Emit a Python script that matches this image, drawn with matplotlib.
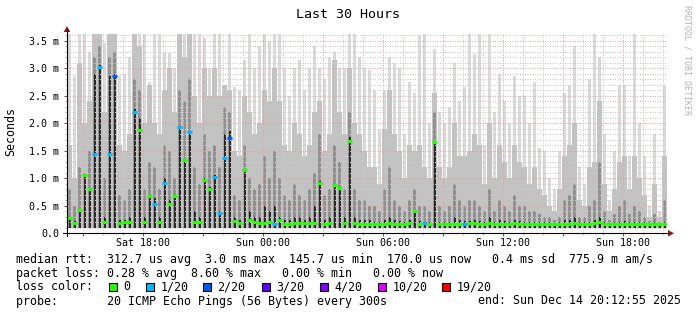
import numpy as np
import matplotlib
matplotlib.use("Agg")
import matplotlib.pyplot as plt
from matplotlib.lines import Line2D
from matplotlib.patches import Polygon, Rectangle

W, H = 697, 315

# smoke levels per 15 minute column (ms)
light_top = [
    3.62, 2.85, 3.62, 3.62, 3.3, 3.62, 3.62, 3.45, 3.62, 3.62,
    2.85, 2.9, 3.2, 3.62, 3.62, 3.62, 2.75, 3.62, 3.62, 3.3,
    3.27, 3.0, 3.62, 3.62, 3.62, 3.62, 3.62, 3.55, 3.0, 3.62,
    3.62, 2.7, 3.62, 2.65, 2.6, 3.15, 3.62, 3.0, 3.4, 3.62,
    3.5, 3.62, 3.62, 3.0, 2.5, 3.0, 3.15, 2.6, 3.0, 3.4,
    3.0, 2.8, 3.2, 3.3, 3.0, 3.0, 3.62, 3.62, 3.2, 3.0,
    2.96, 2.6, 1.9, 2.6, 3.2, 3.1, 3.0, 1.8, 2.75, 2.55,
    3.6, 3.62, 2.0, 3.35, 2.2, 2.0, 2.3, 3.1, 2.4, 2.65,
    3.62, 3.25, 3.62, 1.6, 3.62, 2.2, 2.9, 2.4, 2.0, 2.85,
    2.5, 2.5, 2.0, 2.75, 1.55, 1.5, 1.0, 0.8, 1.5, 2.55,
    2.7, 3.4, 1.2, 0.9, 2.8, 3.62, 3.2, 1.8, 0.6, 1.5,
    2.7, 2.7, 1.4, 3.62, 2.0, 1.4, 0.5, 1.8, 0.4, 2.7,
]
mid_top = [
    1.6, 1.0, 3.1, 2.0, 2.4, 3.62, 3.62, 2.2, 3.62, 3.62,
    1.6, 1.5, 1.8, 3.62, 3.4, 2.0, 2.7, 2.0, 1.8, 2.6,
    3.0, 2.2, 3.62, 3.2, 3.62, 2.5, 2.0, 3.0, 2.5, 3.0,
    2.5, 2.7, 2.6, 1.5, 1.4, 2.5, 2.2, 1.8, 2.0, 2.6,
    2.4, 3.0, 2.4, 1.6, 1.5, 2.0, 1.8, 1.4, 1.6, 2.2,
    2.4, 1.5, 1.8, 3.15, 2.2, 1.8, 3.0, 2.0, 1.8, 1.5,
    1.2, 1.2, 0.9, 1.9, 2.6, 1.8, 1.5, 1.0, 1.6, 1.5,
    1.6, 1.2, 1.0, 2.55, 1.2, 1.0, 1.2, 2.0, 1.4, 1.4,
    1.5, 1.8, 1.6, 0.9, 2.0, 1.0, 1.6, 1.3, 1.0, 1.6,
    1.3, 1.2, 0.9, 1.2, 0.8, 0.7, 0.5, 0.4, 0.8, 1.4,
    1.6, 2.0, 0.6, 0.5, 1.2, 1.3, 2.4, 0.9, 0.4, 0.8,
    1.3, 1.4, 0.8, 1.4, 1.0, 0.7, 0.3, 0.9, 0.3, 1.4,
]
gray_top = [
    0.8, 0.5, 1.2, 1.1, 1.5, 3.2, 3.4, 1.0, 3.2, 3.3,
    0.7, 0.6, 0.8, 2.8, 2.6, 0.8, 1.3, 1.2, 0.8, 1.6,
    1.5, 1.0, 2.6, 2.4, 2.8, 1.2, 0.9, 1.8, 1.5, 1.6,
    1.2, 2.3, 2.2, 0.7, 0.6, 1.6, 1.0, 0.8, 0.9, 1.4,
    1.0, 1.5, 1.0, 0.7, 0.6, 0.9, 0.7, 0.6, 0.8, 1.1,
    1.8, 0.7, 0.8, 1.6, 1.3, 0.8, 2.2, 0.8, 0.6, 0.6,
    0.5, 0.5, 0.4, 0.8, 1.2, 0.6, 0.5, 0.4, 0.6, 0.8,
    0.5, 0.5, 0.4, 2.2, 0.5, 0.4, 0.5, 0.9, 0.6, 0.5,
    0.6, 0.6, 0.5, 0.4, 0.8, 0.4, 0.6, 0.5, 0.4, 0.7,
    0.5, 0.5, 0.4, 0.4, 0.35, 0.3, 0.3, 0.25, 0.3, 0.6,
    0.7, 0.9, 0.3, 0.3, 0.5, 0.6, 1.3, 0.4, 0.25, 0.35,
    0.5, 0.6, 0.35, 0.5, 0.4, 0.3, 0.22, 0.35, 0.2, 0.6,
]
dark_top = [
    0.3, 0.22, 0.42, 1.05, 0.8, 2.9, 3.05, 0.3, 2.85, 2.9,
    0.25, 0.25, 0.3, 2.25, 2.1, 0.3, 0.7, 0.65, 0.3, 1.0,
    0.6, 0.67, 1.95, 1.35, 1.85, 0.4, 0.3, 1.0, 0.85, 1.05,
    0.4, 1.8, 1.85, 0.3, 0.25, 1.15, 0.4, 0.3, 0.3, 0.5,
    0.4, 0.5, 0.3, 0.25, 0.25, 0.3, 0.3, 0.25, 0.3, 0.5,
    0.95, 0.25, 0.3, 0.9, 0.85, 0.3, 1.75, 0.3, 0.25, 0.25,
    0.25, 0.2, 0.2, 0.25, 0.3, 0.25, 0.22, 0.2, 0.25, 0.4,
    0.22, 0.2, 0.2, 1.68, 0.2, 0.2, 0.2, 0.3, 0.25, 0.22,
    0.22, 0.25, 0.22, 0.2, 0.3, 0.2, 0.25, 0.22, 0.2, 0.25,
    0.22, 0.2, 0.2, 0.2, 0.2, 0.2, 0.2, 0.18, 0.2, 0.25,
    0.25, 0.3, 0.2, 0.2, 0.2, 0.25, 0.3, 0.2, 0.18, 0.2,
    0.2, 0.22, 0.2, 0.2, 0.2, 0.2, 0.18, 0.2, 0.18, 0.2,
]
median_ms = [
    0.27, 0.18, 0.42, 1.05, 0.8, 1.44, 3.02, 0.2, 1.44, 2.85,
    0.18, 0.2, 0.2, 2.2, 1.87, 0.2, 0.67, 0.54, 0.2, 0.91,
    0.54, 0.67, 1.93, 1.33, 1.84, 0.2, 0.2, 0.97, 0.8, 1.03,
    0.36, 1.36, 1.73, 0.22, 0.18, 1.15, 0.24, 0.2, 0.18, 0.18,
    0.2, 0.17, 0.25, 0.17, 0.17, 0.18, 0.18, 0.18, 0.18, 0.18,
    0.91, 0.17, 0.18, 0.87, 0.82, 0.18, 1.68, 0.18, 0.17, 0.17,
    0.17, 0.17, 0.17, 0.17, 0.18, 0.17, 0.17, 0.17, 0.18, 0.4,
    0.17, 0.18, 0.17, 1.65, 0.17, 0.17, 0.17, 0.17, 0.17, 0.17,
    0.18, 0.18, 0.17, 0.17, 0.18, 0.17, 0.17, 0.17, 0.17, 0.18,
    0.17, 0.17, 0.17, 0.17, 0.17, 0.17, 0.17, 0.17, 0.17, 0.17,
    0.17, 0.18, 0.17, 0.17, 0.17, 0.18, 0.2, 0.17, 0.17, 0.17,
    0.17, 0.17, 0.17, 0.17, 0.17, 0.17, 0.17, 0.17, 0.17, 0.16,
]
loss_idx = [
    0, 0, 0, 0, 0, 1, 1, 0, 1, 2,
    0, 0, 0, 1, 0, 0, 0, 1, 0, 1,
    0, 0, 1, 0, 1, 0, 0, 0, 0, 1,
    1, 1, 2, 0, 0, 0, 0, 0, 0, 0,
    0, 1, 0, 0, 0, 0, 0, 0, 0, 0,
    0, 0, 0, 0, 0, 0, 0, 0, 0, 0,
    0, 0, 0, 0, 0, 0, 0, 0, 0, 0,
    0, 1, 0, 0, 0, 0, 0, 0, 0, 1,
    0, 0, 0, 0, 0, 0, 0, 0, 0, 0,
    0, 0, 0, 0, 0, 0, 0, 0, 0, 0,
    0, 0, 0, 0, 0, 0, 0, 0, 0, 0,
    0, 0, 0, 0, 0, 0, 0, 0, 0, 0,
]
smoke_floor = 0.1

loss_labels = ["0", "1/20", "2/20", "3/20", "4/20", "10/20", "19/20"]
loss_colors = ["#26ff00", "#00b8ff", "#0059ff", "#5e00ff", "#7e00ff", "#dd00ff", "#ff0000"]

tick_labels = ["", "Sat 18:00", "", "Sun 00:00", "", "Sun 06:00", "", "Sun 12:00", "", "Sun 18:00"]
ytick_labels = ["0.0", "0.5 m", "1.0 m", "1.5 m", "2.0 m", "2.5 m", "3.0 m", "3.5 m"]

legend_lines = [
    "median rtt:  312.7 us avg  3.0 ms max  145.7 us min  170.0 us now   0.4 ms sd  775.9 m am/s",
    "packet loss: 0.28 % avg  8.60 % max   0.00 % min   0.00 % now",
    "loss color:",
    "probe:       20 ICMP Echo Pings (56 Bytes) every 300s",
]
end_text = "end: Sun Dec 14 20:12:55 2025"

HOURS = 30.0
STEP = 0.25            # hours per column
FIRST_TICK = 47 / 60 + 5 / 3600   # Sat 15:00, start is 14:12:55


def fx(x):
    return x / W


def fy(y):
    return 1 - y / H


plt.rcParams["font.family"] = ["DejaVu Sans Mono"]

fig = plt.figure(figsize=(W / 100, H / 100), dpi=100)
fig.patch.set_facecolor("white")

left, right, top, bottom = 67, 667, 32.7, 233.3
ax = fig.add_axes([fx(left), fy(bottom), (right - left) / W, (bottom - top) / H])
ax.set_xlim(0, HOURS)
ax.set_ylim(0, (bottom - top) / 55.05)
for s in ax.spines.values():
    s.set_visible(False)

n = len(median_ms)
t = np.arange(n + 1) * STEP
centers = t[:-1] + STEP / 2

# smoke: outer pings light and thin, inner pings darker and narrower
smoke_layers = [
    (light_top, "#dadada", 0.55),
    (mid_top, "#c2c2c2", 0.85),
    (gray_top, "#909090", 0.65),
    (dark_top, "#2a2a2a", 0.4),
]
for vals, col, frac in smoke_layers:
    v = np.asarray(vals)
    ax.bar(centers, v - smoke_floor, bottom=smoke_floor, width=STEP * frac,
           color=col, lw=0, zorder=1)

# grid
major_x = FIRST_TICK + np.arange(10) * 3
minor_x = FIRST_TICK + np.arange(-1, 30)
ax.set_xticks(major_x)
ax.set_xticklabels(tick_labels)
ax.set_xticks([m for m in minor_x if 0 < m < HOURS], minor=True)
ax.set_yticks(np.arange(8) * 0.5)
ax.set_yticklabels(ytick_labels)
ax.set_yticks(np.arange(37) * 0.1, minor=True)
ax.grid(which="minor", color="#c8c8c8", lw=0.72, ls=(0, (1, 1.5)), zorder=3)
ax.grid(which="major", color="#e6a0a0", lw=0.72, ls=(0, (1, 1.5)), zorder=3)
ax.set_axisbelow(False)
ax.tick_params(which="major", length=2.2, width=0.72, color="#555555", labelsize=7.2)
ax.tick_params(which="minor", length=1.4, width=0.72, color="#bbbbbb")
ax.tick_params(axis="y", pad=3.4)
ax.tick_params(axis="x", pad=1.2)

# median, coloured by loss
ax.hlines(median_ms, t[:-1], t[1:], colors=[loss_colors[i] for i in loss_idx],
          lw=2.2, zorder=4)

# axes with arrows
ax_color = "#000000"
arrow_color = "#8a1a1a"
fig.add_artist(Line2D([fx(63), fx(669)], [fy(bottom), fy(bottom)], color=ax_color, lw=0.8))
fig.add_artist(Line2D([fx(left), fx(left)], [fy(236), fy(30)], color=ax_color, lw=0.8))
fig.add_artist(Polygon([(fx(668), fy(230)), (fx(668), fy(236.6)), (fx(674), fy(233.3))],
                       closed=True, color=arrow_color, lw=0))
fig.add_artist(Polygon([(fx(63.7), fy(32)), (fx(70.3), fy(32)), (fx(67), fy(26))],
                       closed=True, color=arrow_color, lw=0))

fig.text(fx(348), fy(14), "Last 30 Hours", ha="center", va="center", fontsize=9.6)
fig.text(fx(11), fy(131), "Seconds", ha="center", va="center", rotation=90, fontsize=8.4)
fig.text(fx(687.5), fy(5), "RRDTOOL / TOBI OETIKER", ha="center", va="top",
         rotation=270, fontsize=6.0, color="#b4b4b4")

baselines = [262.5, 276.5, 290.5, 304.5]
for line, yb in zip(legend_lines, baselines):
    fig.text(fx(16.5), fy(yb), line, ha="left", va="baseline", fontsize=8.37)
fig.text(fx(478.5), fy(baselines[3]), end_text, ha="left", va="baseline", fontsize=8.37)

box_left = [109, 146, 203, 262, 320, 378, 442]
for bx, lab, col in zip(box_left, loss_labels, loss_colors):
    fig.add_artist(Rectangle((fx(bx), fy(290.5)), 8 / W, 8 / H, facecolor=col,
                             edgecolor="black", lw=0.8))
    fig.text(fx(bx + 14.5), fy(baselines[2]), lab, ha="left", va="baseline", fontsize=8.37)

fig.savefig("out.png", dpi=100)
